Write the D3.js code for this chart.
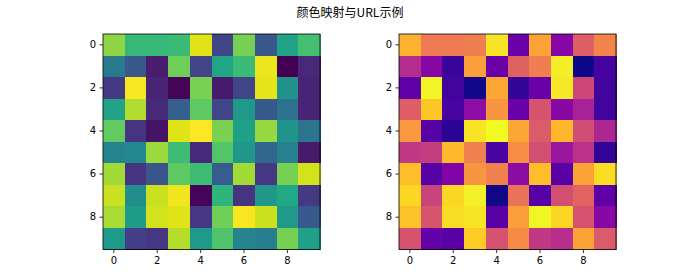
<!DOCTYPE html>
<html><head><meta charset="utf-8">
<script src="https://cdn.jsdelivr.net/npm/d3@7"></script>
<style>body{margin:0;background:#fff}svg{display:block}</style>
</head><body>
<svg id="c" width="700" height="280"></svg>
<script>
const title = "颜色映射与URL示例";
const rowLabels = [0,1,2,3,4,5,6,7,8,9];
const colLabels = [0,1,2,3,4,5,6,7,8,9];
const tickValues = [0,2,4,6,8];
const row0 = [0.83,0.67,0.67,0.68,0.95,0.20,0.79,0.27,0.58,0.70];
const row1 = [0.41,0.27,0.08,0.78,0.20,0.59,0.68,0.97,0.00,0.11];
const row2 = [0.17,0.99,0.10,0.01,0.80,0.07,0.20,0.96,0.50,0.10];
const row3 = [0.58,0.88,0.12,0.30,0.75,0.20,0.54,0.28,0.37,0.10];
const row4 = [0.76,0.15,0.05,0.95,1.00,0.80,0.57,0.84,0.52,0.39];
const row5 = [0.45,0.47,0.85,0.69,0.12,0.73,0.53,0.33,0.43,0.07];
const row6 = [0.86,0.15,0.26,0.75,0.69,0.29,0.86,0.16,0.79,0.93];
const row7 = [0.92,0.49,0.92,0.98,0.01,0.65,0.15,0.53,0.60,0.17];
const row8 = [0.87,0.55,0.93,0.95,0.16,0.78,0.99,0.92,0.54,0.28];
const row9 = [0.54,0.18,0.16,0.89,0.54,0.72,0.45,0.42,0.79,0.57];
const grid = [row0,row1,row2,row3,row4,row5,row6,row7,row8,row9];
const cmaps = [d3.interpolateViridis, d3.interpolatePlasma];

const svg = d3.select("#c");
svg.append("text").attr("x",350).attr("y",17).attr("text-anchor","middle")
  .attr("font-family","'Noto Sans CJK SC', sans-serif").attr("font-size",12).attr("fill","#000").text(title);

const flat = grid.flat();
const vmin = d3.min(flat), vmax = d3.max(flat);
const panels = [{x0:103,x1:320},{x0:399,x1:616}];
const y0 = 34, y1 = 249.5;

panels.forEach((p,i)=>{
  const g = svg.append("g");
  const x = d3.scaleBand().domain(colLabels).range([p.x0,p.x1]);
  const y = d3.scaleBand().domain(rowLabels).range([y0,y1]);
  const color = d3.scaleSequential(cmaps[i]).domain([vmin,vmax]);
  grid.forEach((row,r)=>row.forEach((v,c)=>{
    g.append("rect").attr("x",x(c)).attr("y",y(r))
      .attr("width",x.bandwidth()+0.5).attr("height",y.bandwidth()+0.5)
      .attr("fill",color(v)).attr("shape-rendering","crispEdges");
  }));
  g.append("rect").attr("x",p.x0).attr("y",y0).attr("width",p.x1-p.x0).attr("height",y1-y0)
    .attr("fill","none").attr("stroke","#000").attr("stroke-width",0.8);
  const xa = d3.axisBottom(x).tickValues(tickValues).tickSize(3.5).tickPadding(3.5);
  const ya = d3.axisLeft(y).tickValues(tickValues).tickSize(3.5).tickPadding(3.5);
  const gx = g.append("g").attr("transform",`translate(0,${y1})`).call(xa);
  const gy = g.append("g").attr("transform",`translate(${p.x0},0)`).call(ya);
  [gx,gy].forEach(a=>{
    a.select(".domain").remove();
    a.selectAll("line").attr("stroke","#000").attr("stroke-width",0.8);
    a.selectAll("text").attr("font-family","'DejaVu Sans', sans-serif").attr("font-size",10).attr("fill","#000");
  });
});
</script>
</body></html>
